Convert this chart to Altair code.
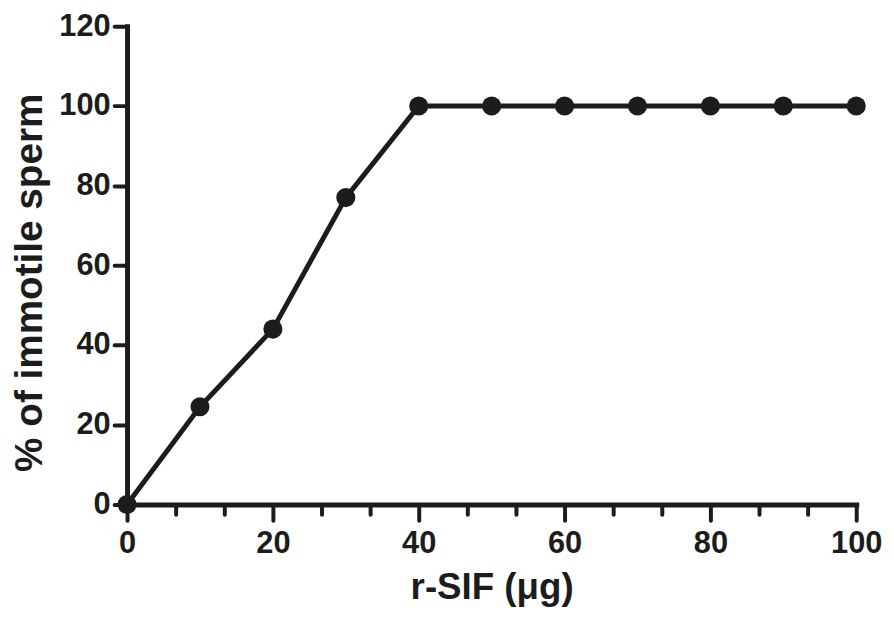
import altair as alt
import pandas as pd

# Data
dose = [0, 10, 20, 30, 40, 50, 60, 70, 80, 90, 100]
immotile = [0, 24.5, 44, 77, 100, 100, 100, 100, 100, 100, 100]
x_ticks = [0, 20 / 3, 40 / 3, 20, 80 / 3, 100 / 3, 40, 140 / 3, 160 / 3, 60,
           200 / 3, 220 / 3, 80, 260 / 3, 280 / 3, 100]
y_ticks = [0, 20, 40, 60, 80, 100, 120]

df = pd.DataFrame({"dose": dose, "immotile": immotile})

ink = "#1c1c1c"
font = "Liberation Sans"

xs = alt.Scale(domain=[0, 100], nice=False, zero=False)
ys = alt.Scale(domain=[0, 120], nice=False)

x_axis = alt.Axis(
    values=x_ticks,
    title="r-SIF (μg)",
    labelExpr="abs(datum.value % 20) < 0.001 ? datum.label : ''",
    labelOverlap=False,
    labelFlush=False,
    tickSize={"condition": {"test": "abs(datum.value % 20) < 0.001", "value": 16}, "value": 10},
    tickWidth=4,
    tickCap="round",
    tickColor=ink,
    domainColor=ink,
    domainWidth=5,
    domainCap="square",
    labelFont=font,
    labelFontSize=31,
    labelFontWeight="bold",
    labelColor=ink,
    labelPadding=8,
    titleFont=font,
    titleFontSize=37,
    titleFontWeight="bold",
    titleColor=ink,
    titlePadding=12,
    grid=False,
)

y_axis = alt.Axis(
    values=y_ticks,
    title="% of immotile sperm",
    labelOverlap=False,
    tickSize=13,
    tickWidth=4,
    tickCap="round",
    tickColor=ink,
    domainColor=ink,
    domainWidth=5,
    domainCap="square",
    labelFont=font,
    labelFontSize=31,
    labelFontWeight="bold",
    labelColor=ink,
    labelPadding=4,
    titleFont=font,
    titleFontSize=39,
    titleFontWeight="bold",
    titleColor=ink,
    titlePadding=10,
    titleY=258,
    grid=False,
)

base = alt.Chart(df)

line = base.mark_line(color=ink, strokeWidth=5, clip=False).encode(
    x=alt.X("dose:Q", scale=xs, axis=x_axis),
    y=alt.Y("immotile:Q", scale=ys, axis=y_axis),
)

points = base.mark_circle(color=ink, size=370, opacity=1, clip=False).encode(
    x=alt.X("dose:Q", scale=xs),
    y=alt.Y("immotile:Q", scale=ys),
)

chart = (
    alt.layer(line, points)
    .properties(
        width=735,
        height=482,
        background="white",
        autosize=alt.AutoSizeParams(type="none"),
        padding={"left": 120, "top": 16, "right": 30, "bottom": 105},
    )
    .configure_view(stroke=None, strokeWidth=0)
)

chart.save("out.html", embed_options={"renderer": "svg", "actions": False})
